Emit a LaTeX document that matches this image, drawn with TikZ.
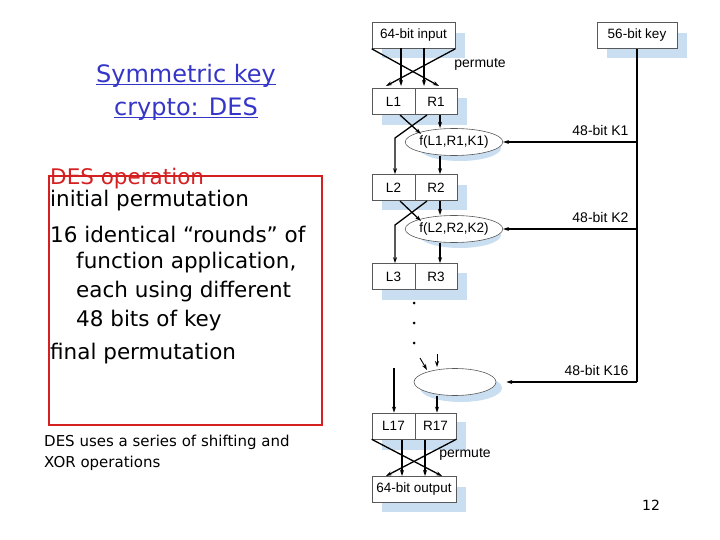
\documentclass[tikz,border=0pt]{standalone}
\usepackage{fontspec}
\setmainfont{DejaVu Sans}
\newfontfamily\dfont{Liberation Sans}
\usetikzlibrary{arrows.meta,shapes.geometric}
\definecolor{shad}{HTML}{C9DFF1}
\definecolor{ttl}{HTML}{3535C8}
\definecolor{redb}{HTML}{D42020}
\tikzset{
  bx/.style={draw=gray!70!black,line width=0.6pt,fill=white,minimum height=26pt,inner sep=0pt,font=\dfont\fontsize{13.5}{13.5}\selectfont},
  ar/.style={-{Stealth[length=6pt,width=4pt]},line width=1.3pt},
  ln/.style={line width=1.1pt},
  el/.style={ellipse,draw=gray!70!black,line width=0.6pt,fill=white,minimum width=82pt,minimum height=27pt,inner sep=0pt,font=\dfont\fontsize{13.5}{13.5}\selectfont},
  lbl/.style={font=\dfont\fontsize{14}{14}\selectfont},
  txt/.style={anchor=west,inner sep=0pt,font=\fontsize{21.5}{21.5}\selectfont},
}
\newcommand{\ulx}[1]{\underline{\smash{#1}}}
\begin{document}
\begin{tikzpicture}[x=1pt,y=-1pt]
\useasboundingbox (0,0) rectangle (720,540);
% shadows
\fill[shad] (382,33) rectangle (465,58);
\fill[shad] (607,33) rectangle (687,58);
\fill[shad] (382,98) rectangle (467,125);
\fill[shad] (382,185) rectangle (467,210);
\fill[shad] (382,273) rectangle (467,300);
\fill[shad] (382,422) rectangle (466,450);
\fill[shad] (382,487) rectangle (466,512);
\fill[shad] (460,148) ellipse (41 and 13);
\fill[shad] (460,235) ellipse (41 and 13);
\fill[shad] (461,388) ellipse (41 and 14);
% boxes
\node[bx,minimum width=83pt] (in) at (413.5,35.5) {64-bit input};
\node[bx,minimum width=80pt] (key) at (637,35.5) {56-bit key};
\node[bx,minimum width=43pt] (L1) at (393.5,101.5) {L1};
\node[bx,minimum width=42pt] (R1) at (436,101.5) {R1};
\node[bx,minimum width=43pt] (L2) at (393.5,187.5) {L2};
\node[bx,minimum width=42pt] (R2) at (436,187.5) {R2};
\node[bx,minimum width=43pt] (L3) at (393.5,276.5) {L3};
\node[bx,minimum width=42pt] (R3) at (436,276.5) {R3};
\node[bx,minimum width=43pt] (L17) at (393.5,426) {L17};
\node[bx,minimum width=41pt] (R17) at (435.5,426) {R17};
\node[bx,minimum width=84pt] (out) at (414,489.5) {64-bit output};
\node[el] (f1) at (454,142) {f(L1,R1,K1)};
\node[el] (f2) at (454,229) {f(L2,R2,K2)};
\node[el] (f3) at (455,382) {};
% permute top
\draw[ar] (in.south west) -- (439,86);
\draw[ar] (in.south east) -- (386,86);
\draw[ar] (401,48) -- (401,86);
\draw[ar] (424,48) -- (424,86);
\node[lbl] at (480,64) {permute};
% round 1
\draw[ar] (400,115) -- (421,134);
\draw[ar] (440,115) -- (440,128);
\draw[ar] (427,115) -- (395,138) -- (L2.north -| 395,0);
\draw[ar] (f1.south -| 440,0) -- (R2.north -| 440,0);
% round 2
\draw[ar] (400,201) -- (421,221);
\draw[ar] (440,201) -- (440,215);
\draw[ar] (427,201) -- (395,225) -- (L3.north -| 395,0);
\draw[ar] (f2.south -| 440,0) -- (R3.north -| 440,0);
% dots
\foreach \y in {303,323,343} \fill (414,\y) circle (1.5);
\draw[ar,line width=0.9pt] (420,358) -- (427,370);
\draw[ar,line width=0.9pt] (437,354) -- (437,367);
\draw[ar] (394,368) -- (L17.north -| 394,0);
\draw[ar] (f3.south -| 437,0) -- (R17.north -| 437,0);
% permute bottom
\draw[ar] (L17.south west) -- (442,476);
\draw[ar] (R17.south east) -- (386,476);
\draw[ar] (402,440) -- (402,476);
\draw[ar] (425,440) -- (425,476);
\node[lbl] at (465,454) {permute};
% key line
\coordinate (k1) at (637,142);
\coordinate (k2) at (637,229);
\coordinate (k3) at (637,382);
\draw[ln] (key.south) -- (k3);
\draw[ar] (k1) -- (f1.east);
\draw[ar] (k2) -- (f2.east);
\draw[ar] (k3) -- ([xshift=10pt]f3.east);
\node[lbl,anchor=east] at (632,130) {48-bit K1};
\node[lbl,anchor=east] at (632,217) {48-bit K2};
\node[lbl,anchor=east] at (632,370) {48-bit K16};
% left text
\node[font=\fontsize{24}{33}\selectfont,text=ttl,align=center] (ttl) at (186,100) {\ulx{Symmetric key}\\\ulx{crypto: DES}};
\draw[redb,line width=1.6pt] (49,176) rectangle (322,425);
\node[txt,text=redb] (h) at (50,179) {DES operation};
\node[txt] at (50,201) {initial permutation};
\node[txt] at (50,234) {16 identical “rounds” of};
\node[txt] at (76,263) {function application,};
\node[txt] at (76,292) {each using different};
\node[txt] at (76,321) {48 bits of key};
\node[txt] at (50,354) {final permutation};
\node[anchor=west,align=left,inner sep=0pt,font=\fontsize{15}{21}\selectfont] at (44,453) {DES uses a series of shifting and\\XOR operations};
\node[font=\fontsize{14}{14}\selectfont] at (651,505) {12};
\end{tikzpicture}
\end{document}
